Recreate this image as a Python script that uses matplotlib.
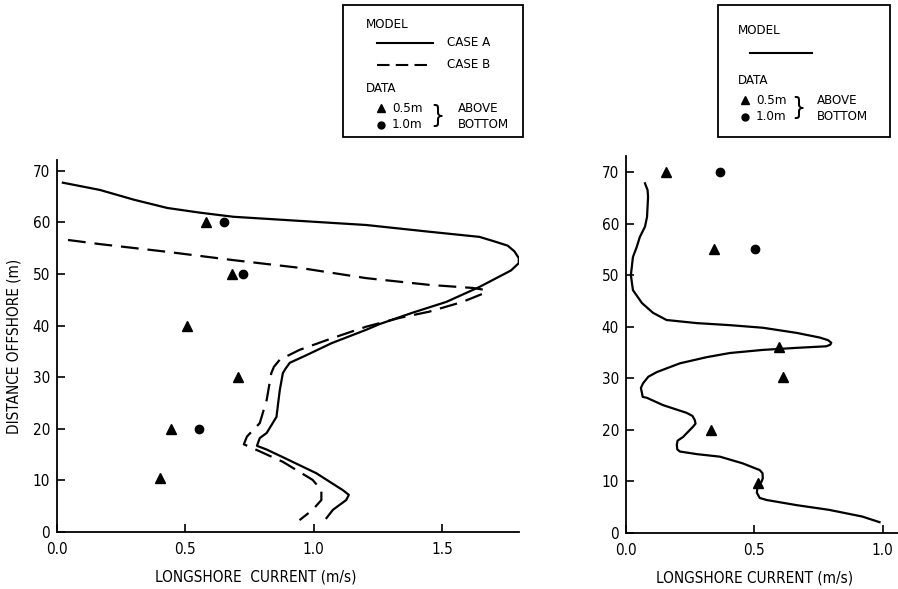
import matplotlib
matplotlib.use("Agg")
import matplotlib.pyplot as plt
from matplotlib.patches import Rectangle

plt.rcParams["font.family"] = ["DejaVu Sans"]
plt.rcParams["font.stretch"] = "condensed"

# ---- left panel: model cases (x = current m/s, y = distance m)
case_a_x = [0.023, 0.167, 0.30, 0.43, 0.556, 0.686, 0.945, 1.205, 1.45, 1.646, 1.712, 1.756,
            1.782, 1.799, 1.799, 1.769, 1.75, 1.646, 1.517, 1.385, 1.257, 1.205, 1.07, 0.973,
            0.907, 0.891, 0.88, 0.868, 0.855, 0.817, 0.79, 0.779, 0.816, 0.88, 1.01, 1.114,
            1.137, 1.127, 1.075, 1.05]
case_a_y = [67.7, 66.3, 64.4, 62.8, 61.9, 61.1, 60.3, 59.5, 58.2, 57.2, 56.2, 55.5,
            54.4, 53.1, 52.1, 50.7, 50.2, 47.5, 44.6, 42.5, 40.3, 39.2, 36.6, 34.3,
            32.8, 31.7, 30.8, 27.5, 22.3, 19.2, 18.2, 16.7, 16.0, 14.5, 11.4, 8.1,
            7.2, 6.2, 4.3, 2.7]
case_b_x = [0.043, 0.167, 0.43, 0.686, 0.945, 1.205, 1.45, 1.62, 1.67, 1.665, 1.58, 1.45,
            1.335, 1.205, 1.074, 0.945, 0.868, 0.845, 0.835, 0.817, 0.79, 0.74, 0.728, 0.76,
            0.88, 0.996, 1.03, 1.03, 0.996, 0.945]
case_b_y = [56.6, 55.8, 54.3, 52.7, 51.2, 49.2, 47.9, 47.3, 46.9, 46.3, 44.6, 42.7,
            41.5, 39.8, 37.6, 35.3, 33.4, 32.0, 30.8, 25.6, 21.1, 18.5, 17.0, 16.3,
            13.6, 10.1, 8.1, 6.2, 4.3, 2.3]
left_tri_x = [0.58, 0.68, 0.506, 0.707, 0.443, 0.40]
left_tri_y = [60, 50, 40, 30, 20, 10.5]
left_dot_x = [0.65, 0.723, 0.552]
left_dot_y = [60, 50, 20]

# ---- right panel
model_x = [0.074, 0.084, 0.086, 0.082, 0.074, 0.054, 0.042, 0.027, 0.019, 0.027, 0.062,
           0.105, 0.158, 0.275, 0.405, 0.533, 0.665, 0.755, 0.787, 0.80, 0.796, 0.78,
           0.665, 0.533, 0.405, 0.315, 0.21, 0.12, 0.087, 0.066, 0.058, 0.062, 0.065,
           0.082, 0.144, 0.236, 0.259, 0.268, 0.271, 0.261, 0.222, 0.201, 0.198, 0.2,
           0.21, 0.275, 0.366, 0.455, 0.521, 0.532, 0.533, 0.528, 0.513, 0.51, 0.521,
           0.548, 0.665, 0.79, 0.92, 0.988]
model_y = [67.8, 66.5, 65.2, 61.3, 59.4, 57.4, 55.5, 53.5, 50.0, 47.1, 44.6,
           42.7, 41.3, 40.7, 40.3, 39.8, 38.8, 37.9, 37.4, 36.9, 36.5, 36.2,
           35.9, 35.5, 34.9, 34.1, 32.9, 31.2, 30.3, 29.0, 28.1, 27.2, 26.4,
           26.2, 24.8, 23.3, 22.7, 21.9, 21.2, 20.6, 18.6, 17.9, 17.1, 16.2,
           15.8, 15.3, 14.8, 13.5, 12.2, 11.6, 10.6, 9.9, 9.3, 7.8, 6.8,
           6.4, 5.4, 4.5, 3.2, 2.1]
right_tri_x = [0.156, 0.342, 0.595, 0.61, 0.331, 0.513]
right_tri_y = [70, 55, 36, 30.3, 20, 9.7]
right_dot_x = [0.366, 0.502]
right_dot_y = [70, 55]

fig = plt.figure(figsize=(8.98, 5.89), dpi=100)
W, H = 898, 589


def style(ax, xmax, ymax, xticks, xlabels):
    ax.set_xlim(0, xmax)
    ax.set_ylim(0, ymax)
    for s in ["top", "right"]:
        ax.spines[s].set_visible(False)
    for s in ["left", "bottom"]:
        ax.spines[s].set_linewidth(1.3)
    ax.set_xticks(xticks)
    ax.set_xticklabels(xlabels)
    ax.set_yticks(range(0, 71, 10))
    ax.tick_params(direction="in", length=6, width=1.2, labelsize=11)
    ax.tick_params(axis="x", pad=7)
    ax.tick_params(axis="y", pad=5)
    ax.patch.set_alpha(0)


ax1 = fig.add_axes([57 / W, 1 - 532 / H, (519 - 57) / W, (532 - 160) / H])
ax1.plot(case_a_x, case_a_y, color="black", lw=1.6, solid_joinstyle="round")
ax1.plot(case_b_x, case_b_y, color="black", lw=1.6, dashes=(8, 4))
ax1.plot(left_tri_x, left_tri_y, "^", color="black", ms=7, ls="none")
ax1.plot(left_dot_x, left_dot_y, "o", color="black", ms=6, ls="none")
style(ax1, 1.8, 72.1, [0, 0.5, 1.0, 1.5], ["0.0", "0.5", "1.0", "1.5"])
ax1.set_ylabel("DISTANCE OFFSHORE (m)", fontsize=11, labelpad=8)
ax1.set_xlabel("LONGSHORE  CURRENT (m/s)", fontsize=11)
ax1.xaxis.set_label_coords((256 - 57) / (519 - 57), -0.1)

ax2 = fig.add_axes([626 / W, 1 - 533 / H, (898 - 626) / W, (533 - 156) / H])
ax2.plot(model_x, model_y, color="black", lw=1.6, solid_joinstyle="round")
ax2.plot(right_tri_x, right_tri_y, "^", color="black", ms=7, ls="none")
ax2.plot(right_dot_x, right_dot_y, "o", color="black", ms=6, ls="none")
style(ax2, 1.06, 73.1, [0, 0.5, 1.0], ["0.0", "0.5", "1.0"])
ax2.set_xlabel("LONGSHORE CURRENT (m/s)", fontsize=11)
ax2.xaxis.set_label_coords((755 - 626) / (898 - 626), -0.1)

# legend boxes drawn in pixel coordinates on an overlay
ov = fig.add_axes([0, 0, 1, 1])
ov.set_xlim(0, W)
ov.set_ylim(H, 0)
ov.axis("off")
ov.patch.set_alpha(0)

fs = 9.5
ov.add_patch(Rectangle((343, 5), 180, 132, fill=False, lw=1.3, color="black"))
ov.text(366, 25, "MODEL", fontsize=fs, va="center")
ov.plot([377, 433], [43, 43], color="black", lw=1.5)
ov.text(447, 43, "CASE A", fontsize=fs, va="center")
ov.plot([377, 433], [65, 65], color="black", lw=1.5, dashes=(6, 3))
ov.text(447, 65, "CASE B", fontsize=fs, va="center")
ov.text(366, 88, "DATA", fontsize=fs, va="center")
ov.plot([381], [108], "^", color="black", ms=6)
ov.plot([381], [125], "o", color="black", ms=5)
ov.text(392, 108, "0.5m", fontsize=fs, va="center")
ov.text(392, 125, "1.0m", fontsize=fs, va="center")
ov.text(437, 116, "}", fontsize=18, va="center", ha="center")
ov.text(458, 108, "ABOVE", fontsize=fs, va="center")
ov.text(458, 125, "BOTTOM", fontsize=fs, va="center")

ov.add_patch(Rectangle((718, 5), 172, 132, fill=False, lw=1.3, color="black"))
ov.text(738, 30, "MODEL", fontsize=fs, va="center")
ov.plot([750, 812], [53, 53], color="black", lw=1.5)
ov.text(738, 80, "DATA", fontsize=fs, va="center")
ov.plot([745], [100], "^", color="black", ms=6)
ov.plot([745], [117], "o", color="black", ms=5)
ov.text(756, 100, "0.5m", fontsize=fs, va="center")
ov.text(756, 117, "1.0m", fontsize=fs, va="center")
ov.text(798, 108, "}", fontsize=18, va="center", ha="center")
ov.text(817, 100, "ABOVE", fontsize=fs, va="center")
ov.text(817, 117, "BOTTOM", fontsize=fs, va="center")

fig.savefig("out.png", dpi=100)
